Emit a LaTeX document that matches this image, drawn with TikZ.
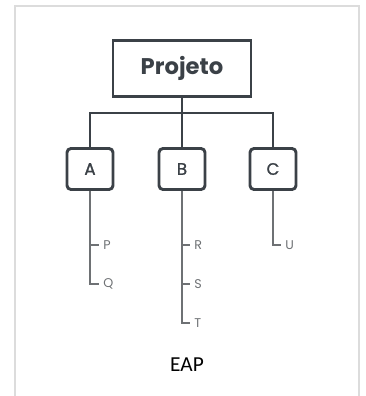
\documentclass[tikz,border=0pt]{standalone}
\usepackage{fontspec}
\setmainfont{Carlito}
\newfontfamily\geofont{Poppins}
\newfontfamily\geomid[FakeBold=1.2]{Poppins}
\definecolor{ink}{HTML}{3B4147}
\definecolor{twig}{HTML}{6E7174}
\definecolor{framegray}{HTML}{DCDCDC}
\tikzset{
  rootbox/.style={draw=ink,line width=2.2pt,minimum width=103.5pt,minimum height=42pt,
    text=ink,font=\geofont\bfseries\fontsize{17}{20}\selectfont},
  taskbox/.style={draw=ink,line width=2.2pt,rounded corners=3pt,minimum width=34.5pt,
    minimum height=30.75pt,text=ink,font=\geomid\fontsize{12.5}{15}\selectfont},
  leaf/.style={anchor=west,inner sep=3pt,text=twig,font=\geofont\fontsize{9.5}{11}\selectfont},
  trunk/.style={draw=ink,line width=2.2pt},
  branch/.style={draw=twig,line width=0.8pt}
}
\begin{document}
\begin{tikzpicture}[x=0.75pt,y=-0.75pt]
\useasboundingbox (0,0) rectangle (366,396);
\draw[framegray,line width=1.5pt] (15,396) -- (15,6) -- (359,6) -- (359,396);

% root and work packages
\node[rootbox] (proj) at (182,68.5) {Projeto};
\node[taskbox] (A) at (90,169) {A};
\node[taskbox] (B) at (182,169) {B};
\node[taskbox] (C) at (273,169) {C};
\coordinate (bar) at (182,113);
\draw[trunk] (proj.south) -- (bar);
\draw[trunk] (A.north) |- (bar) -| (C.north);
\draw[trunk] (bar) -- (B.north);

% leaves
\node[leaf] (P) at (99,245) {P};
\node[leaf] (Q) at (99,284) {Q};
\node[leaf] (R) at (190,245) {R};
\node[leaf] (S) at (190,284) {S};
\node[leaf] (T) at (190,323) {T};
\node[leaf] (U) at (281,245) {U};
\draw[branch] (A.south) |- (Q.west);
\draw[branch] (A.south |- P.west) -- (P.west);
\draw[branch] (B.south) |- (T.west);
\foreach \n in {R,S}
  \draw[branch] (B.south |- \n.west) -- (\n.west);
\draw[branch] (C.south) |- (U.west);

\node[font=\fontsize{16}{19}\selectfont] (eap) at (187,365) {EAP};
\end{tikzpicture}
\end{document}
